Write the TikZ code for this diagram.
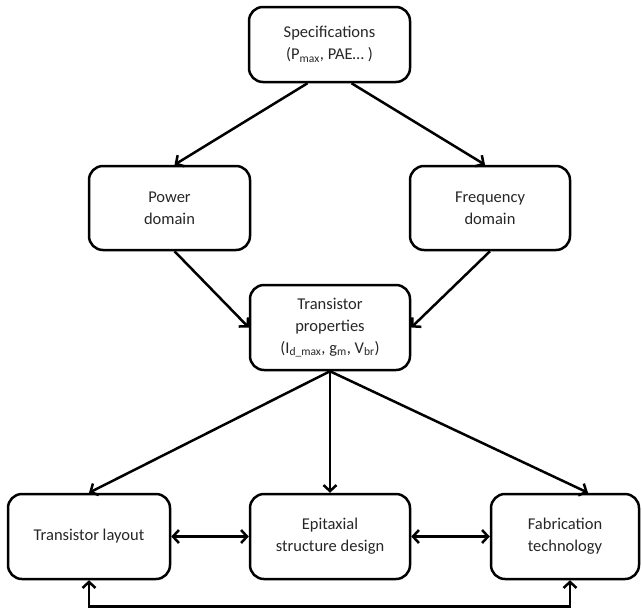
\documentclass[tikz,border=0pt]{standalone}
\usepackage{fontspec}
\setmainfont{Carlito}
\usetikzlibrary{arrows.meta}
\begin{document}
\begin{tikzpicture}[x=1pt,y=-1pt,
  box/.style={draw, line width=2.5pt, rounded corners=14pt, align=center,
    font=\fontsize{16.5}{22}\selectfont, inner sep=0pt, minimum height=84pt, text=black!85},
  conn/.style={line width=2.5pt, -{Straight Barb[length=6pt,width=13pt]}},
  conn2/.style={line width=2.5pt, {Straight Barb[length=6pt,width=13pt]}-{Straight Barb[length=6pt,width=13pt]}}
  ]
\useasboundingbox (0,0) rectangle (642,608);
\node[box, minimum width=161pt, minimum height=75pt] (spec) at (329.5,44.5) {Specifications\\(P\textsubscript{max}, PAE… )};
\node[box, minimum width=161pt] (power) at (169.5,208) {Power\\domain};
\node[box, minimum width=160pt] (freq) at (490,208) {Frequency\\domain};
\node[box, minimum width=160pt, minimum height=85pt] (tp) at (330,327.5) {Transistor\\properties\\(I\textsubscript{d\_max}, g\textsubscript{m}, V\textsubscript{br})};
\node[box, minimum width=162pt, minimum height=85pt] (layout) at (89,536.5) {Transistor layout};
\node[box, minimum width=160pt, minimum height=85pt] (epi) at (330,536.5) {Epitaxial\\structure design};
\node[box, minimum width=148pt, minimum height=85pt] (fab) at (565,536.5) {Fabrication\\technology};

\draw[conn] ([xshift=-22pt]spec.south) -- ([xshift=5pt]power.north);
\draw[conn] ([xshift=22pt]spec.south) -- ([xshift=-5pt]freq.north);
\draw[conn] ([xshift=5pt]power.south) -- (tp.west);
\draw[conn] (freq.south) -- (tp.east);
\draw[conn] (tp.south) -- (layout.north);
\draw[conn] (tp.south) -- (epi.north);
\draw[conn] (tp.south) -- ([xshift=23pt]fab.north);
\draw[conn2] (layout.east) -- (epi.west);
\draw[conn2] (epi.east) -- (fab.west);
\draw[conn2] (layout.south) -- ++(0,26) -| ([xshift=5pt]fab.south);
\end{tikzpicture}
\end{document}
